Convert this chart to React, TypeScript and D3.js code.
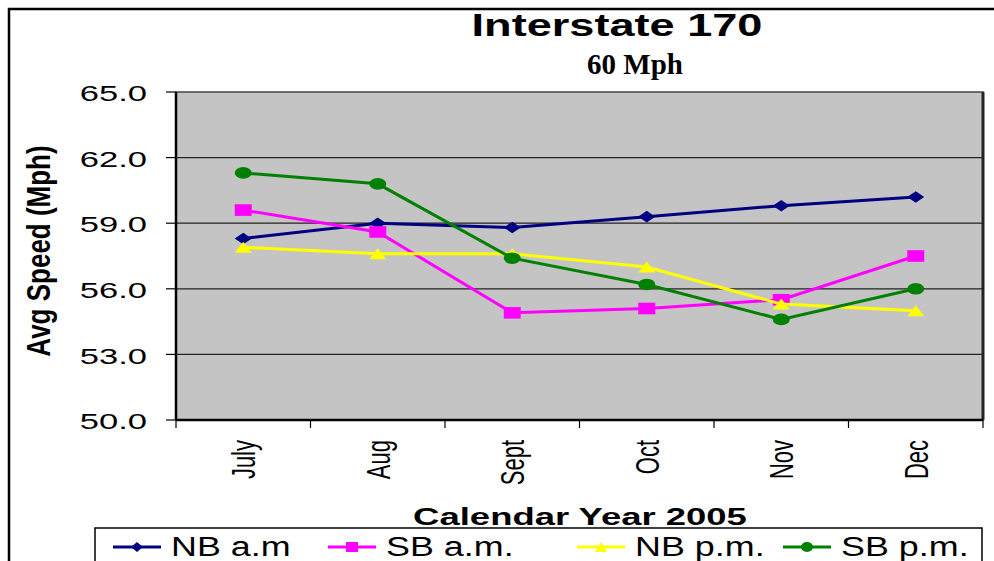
import React from 'react'
import * as d3 from 'd3'

const months = ['July', 'Aug', 'Sept', 'Oct', 'Nov', 'Dec']
const nbAm = [58.3, 59.0, 58.8, 59.3, 59.8, 60.2]
const sbAm = [59.6, 58.6, 54.9, 55.1, 55.5, 57.5]
const nbPm = [57.9, 57.6, 57.6, 57.0, 55.3, 55.0]
const sbPm = [61.3, 60.8, 57.4, 56.2, 54.6, 56.0]
const yTicks = [50, 53, 56, 59, 62, 65]

const seriesNames = ['NB a.m', 'SB a.m.', 'NB p.m.', 'SB p.m.']
const seriesColors = ['#000080', '#ff00ff', '#ffff00', '#008000']
const seriesShapes = ['diamond', 'square', 'triangle', 'circle']
const seriesValues = [nbAm, sbAm, nbPm, sbPm]

// legend entry starts (layout only)
const legendX = [113, 328, 577, 783]

const W = 994
const H = 561
const plot = {left: 176, right: 983, top: 92, bottom: 420}
const sans = '"Liberation Sans", Arial, sans-serif'

function marker(shape, w, h) {
  if (shape === 'diamond') return `M0,${-h}L${w},0L0,${h}L${-w},0Z`
  if (shape === 'square') return `M${-w},${-h}H${w}V${h}H${-w}Z`
  if (shape === 'triangle') return `M0,${-h}L${w},${h}L${-w},${h}Z`
  return `M${-w},0A${w},${h} 0 1,0 ${w},0A${w},${h} 0 1,0 ${-w},0Z`
}

export default function App() {
  const x = d3
    .scaleBand()
    .domain(months)
    .range([plot.left, plot.right])
    .padding(0)
  const y = d3
    .scaleLinear()
    .domain([50, 65])
    .range([plot.bottom, plot.top])
  const cx = m => x(m) + x.bandwidth() / 2

  const line = d3
    .line()
    .x((d, i) => cx(months[i]))
    .y(d => y(d))

  const boundaries = months.map(m => x(m)).concat([plot.right])

  return (
    <svg
      width={W}
      height={H}
      style={{position: 'absolute', left: 0, top: 0, background: '#fff'}}
    >
      {/* outer frame */}
      <path d={`M9,${H}V9H${W}`} fill="none" stroke="#000" strokeWidth={2.5} />

      <text
        transform={`translate(617,36) scale(1.41,1)`}
        textAnchor="middle"
        fontFamily={sans}
        fontWeight="bold"
        fontSize={32}
      >
        Interstate 170
      </text>
      <text
        transform={`translate(635,74)`}
        textAnchor="middle"
        fontFamily='"Liberation Serif", "Times New Roman", serif'
        fontWeight="bold"
        fontSize={29}
      >
        60 Mph
      </text>

      {/* plot area */}
      <rect
        x={plot.left}
        y={plot.top}
        width={plot.right - plot.left}
        height={plot.bottom - plot.top}
        fill="#c4c4c4"
        stroke="#444"
        strokeWidth={1.5}
      />
      {yTicks.slice(1, -1).map(t => (
        <line
          key={t}
          x1={plot.left}
          x2={plot.right}
          y1={y(t)}
          y2={y(t)}
          stroke="#222"
          strokeWidth={1.2}
        />
      ))}
      <line x1={plot.right} x2={plot.right} y1={plot.top} y2={plot.bottom} stroke="#222" strokeWidth={3} />
      <line x1={plot.left} x2={plot.left} y1={plot.top} y2={plot.bottom} stroke="#000" strokeWidth={2.5} />
      <line x1={plot.left} x2={plot.right} y1={plot.bottom} y2={plot.bottom} stroke="#000" strokeWidth={2.5} />

      {/* y axis */}
      {yTicks.map(t => (
        <g key={t}>
          <line x1={plot.left - 10} x2={plot.left} y1={y(t)} y2={y(t)} stroke="#000" strokeWidth={1.2} />
          <text
            transform={`translate(147,${y(t)}) scale(1.57,1)`}
            textAnchor="end"
            dy="0.42em"
            fontFamily={sans}
            fontSize={22}
          >
            {t.toFixed(1)}
          </text>
        </g>
      ))}
      <text
        transform={`translate(50,251) scale(1.3,1) rotate(-90)`}
        textAnchor="middle"
        fontFamily={sans}
        fontWeight="bold"
        fontSize={26}
      >
        Avg Speed (Mph)
      </text>

      {/* x axis */}
      {boundaries.map((b, i) => (
        <line key={i} x1={b} x2={b} y1={plot.bottom} y2={plot.bottom + 8} stroke="#000" strokeWidth={1.2} />
      ))}
      {months.map(m => (
        <text
          key={m}
          transform={`translate(${cx(m)},440) scale(1.5,1) rotate(-90)`}
          textAnchor="end"
          dy="0.36em"
          fontFamily={sans}
          fontSize={22}
        >
          {m}
        </text>
      ))}
      <text
        transform={`translate(580,525) scale(1.52,1)`}
        textAnchor="middle"
        fontFamily={sans}
        fontWeight="bold"
        fontSize={24}
      >
        Calendar Year 2005
      </text>

      {/* series */}
      {seriesValues.map((vals, s) => (
        <g key={seriesNames[s]}>
          <path d={line(vals)} fill="none" stroke={seriesColors[s]} strokeWidth={3} />
          {vals.map((v, i) => (
            <path
              key={i}
              transform={`translate(${cx(months[i])},${y(v)})`}
              d={marker(seriesShapes[s], 8.5, seriesShapes[s] === 'triangle' ? 5.5 : 5.8)}
              fill={seriesColors[s]}
            />
          ))}
        </g>
      ))}

      {/* legend */}
      <rect x={95} y={528} width={887} height={40} fill="#fff" stroke="#000" strokeWidth={1.5} />
      {seriesNames.map((name, s) => (
        <g key={name} transform={`translate(${legendX[s]},547)`}>
          <line x1={0} x2={48} y1={0} y2={0} stroke={seriesColors[s]} strokeWidth={3} />
          <path transform="translate(24,0)" d={marker(seriesShapes[s], 6, 5)} fill={seriesColors[s]} />
          <text
            transform={`translate(58,9) scale(1.33,1)`}
            fontFamily={sans}
            fontSize={27}
          >
            {name}
          </text>
        </g>
      ))}
    </svg>
  )
}
